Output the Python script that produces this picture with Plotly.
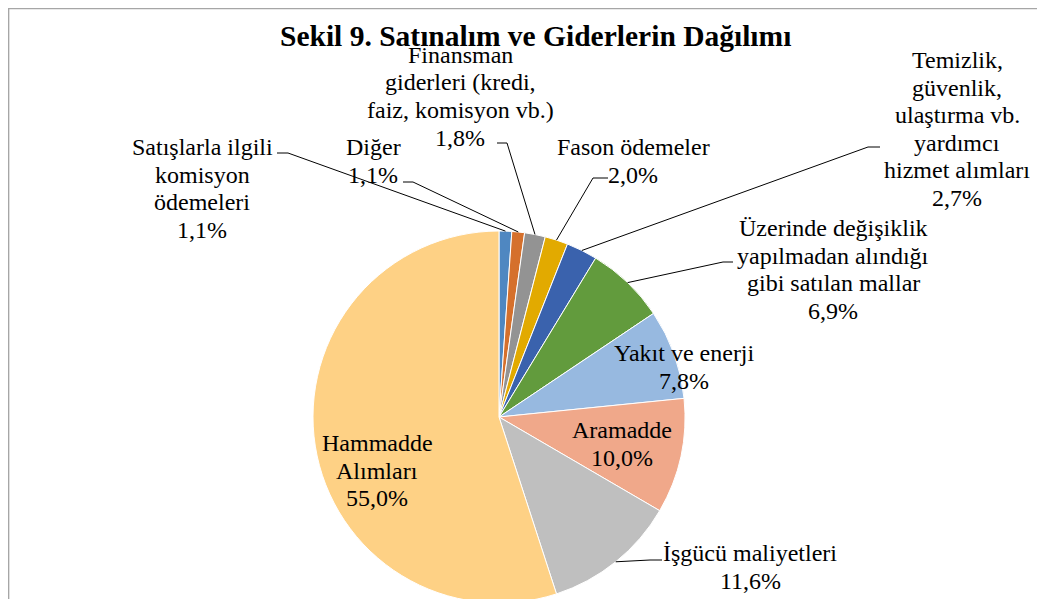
import math
import plotly.graph_objects as go

# ---------------- data ----------------
categories = [
    "Satışlarla ilgili komisyon ödemeleri",
    "Diğer",
    "Finansman giderleri (kredi, faiz, komisyon vb.)",
    "Fason ödemeler",
    "Temizlik, güvenlik, ulaştırma vb. yardımcı hizmet alımları",
    "Üzerinde değişiklik yapılmadan alındığı gibi satılan mallar",
    "Yakıt ve enerji",
    "Aramadde",
    "İşgücü maliyetleri",
    "Hammadde Alımları",
]
values = [1.1, 1.1, 1.8, 2.0, 2.7, 6.9, 7.8, 10.0, 11.6, 55.0]
label_lines = [
    ["Satışlarla ilgili", "komisyon", "ödemeleri"],
    ["Diğer"],
    ["Finansman", "giderleri (kredi,", "faiz, komisyon vb.)"],
    ["Fason ödemeler"],
    ["Temizlik,", "güvenlik,", "ulaştırma vb.", "yardımcı", "hizmet alımları"],
    ["Üzerinde değişiklik", "yapılmadan alındığı", "gibi satılan mallar"],
    ["Yakıt ve enerji"],
    ["Aramadde"],
    ["İşgücü maliyetleri"],
    ["Hammadde", "Alımları"],
]
title_text = "Sekil 9. Satınalım ve Giderlerin Dağılımı"

# ---------------- style / layout ----------------
colors = ["#4F87C1", "#D5702C", "#939393", "#E2AA00", "#3A62AD",
          "#629B3D", "#97B9E0", "#F0A88A", "#BFBFBF", "#FED185"]
W, H = 1045, 599
OFF = 8  # page body margin
CX, CY, R = 499, 417, 186  # page pixels
FONT = "Liberation Serif, Times New Roman, serif"
FS = 24
LS = 27.5
# label block: (center x, first line y) in page pixels
label_pos = [(202, 147), (373, 147), (460, 55), (633, 147), (957, 60),
             (833, 228), (684, 353), (622, 430), (750, 553), (377, 443)]
# leader lines: (label end x, y, elbow x) or None
leaders = [(277, 153, 288), (403, 182, 413), (497, 143, 507), (608, 178, 593),
           (880, 147, 868), (733, 262, 723), None, None, (662, 560, 650), None]


def px(x):
    return (x - OFF) / W


def py(y):
    return 1 - (y - OFF) / H


fig = go.Figure()
fig.add_trace(go.Pie(
    labels=categories, values=values, sort=False, direction="clockwise",
    rotation=0, textinfo="none", hoverinfo="label+percent",
    marker=dict(colors=colors, line=dict(color="white", width=1)),
    domain=dict(x=[px(CX - R), px(CX + R)], y=[py(CY + R), py(CY - R)]),
    showlegend=False,
))

annotations = []
shapes = []
total = sum(values)
cum = 0.0
for i, v in enumerate(values):
    mid = (cum + v / 2) / total * 2 * math.pi
    cum += v
    ax = CX + R * math.sin(mid)
    ay = CY - R * math.cos(mid)
    lines = label_lines[i] + [f"{v:.1f}".replace(".", ",") + "%"]
    lx, ly = label_pos[i]
    for k, t in enumerate(lines):
        annotations.append(dict(
            x=px(lx), y=py(ly + k * LS), xref="paper", yref="paper",
            text=t, showarrow=False, xanchor="center", yanchor="middle",
            font=dict(family=FONT, size=FS, color="#000000")))
    if leaders[i] is not None:
        sx, sy, ex = leaders[i]
        shapes.append(dict(
            type="path", xref="paper", yref="paper",
            path=f"M {px(sx)} {py(sy)} L {px(ex)} {py(sy)} L {px(ax)} {py(ay)}",
            line=dict(color="#000000", width=1)))

# title
annotations.append(dict(
    x=px(535), y=py(36), xref="paper", yref="paper", text=f"<b>{title_text}</b>",
    showarrow=False, xanchor="center", yanchor="middle",
    font=dict(family=FONT, size=29.5, color="#000000")))

# chart-area border
shapes.append(dict(type="rect", xref="paper", yref="paper",
                   x0=0.6 / W, y0=0.6 / H, x1=1 - 0.6 / W, y1=1 - 0.6 / H,
                   line=dict(color="#A6A6A6", width=1.5)))

fig.update_layout(
    width=W, height=H, margin=dict(l=0, r=0, t=0, b=0),
    paper_bgcolor="white", plot_bgcolor="white",
    annotations=annotations, shapes=shapes,
)
fig.write_html("out.html")
